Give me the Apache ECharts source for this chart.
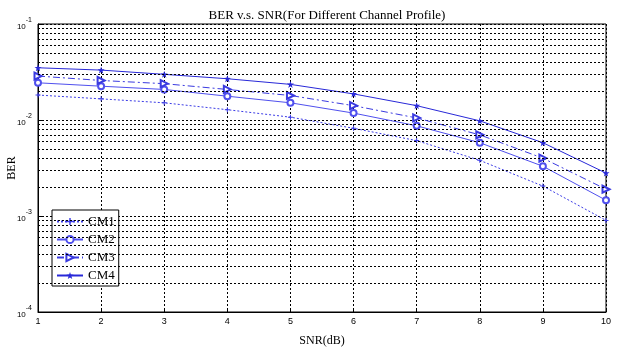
<!DOCTYPE html>
<html><head><meta charset="utf-8">
<script src="https://cdn.jsdelivr.net/npm/echarts@6/dist/echarts.min.js"></script>
<style>html,body{margin:0;padding:0;background:#fff}#c{width:628px;height:349px}</style>
</head><body><div id="c"></div>
<script>
var snr = [1, 2, 3, 4, 5, 6, 7, 8, 9, 10];
var cm1 = [0.0182, 0.0166, 0.0151, 0.0128, 0.0107, 0.0082, 0.0061, 0.0038, 0.00205, 0.0009];
var cm2 = [0.0244, 0.0225, 0.0208, 0.0177, 0.0151, 0.0118, 0.0087, 0.0058, 0.0033, 0.00146];
var cm3 = [0.0287, 0.0258, 0.0239, 0.0208, 0.0180, 0.0141, 0.0105, 0.0070, 0.0040, 0.0019];
var cm4 = [0.0350, 0.0331, 0.0299, 0.0269, 0.0235, 0.0187, 0.0141, 0.0098, 0.0058, 0.0028];
var seriesNames = ['CM1', 'CM2', 'CM3', 'CM4'];
var minorGrid = [0.0002, 0.0003, 0.0004, 0.0005, 0.0006, 0.0007, 0.0008, 0.0009,
                 0.002, 0.003, 0.004, 0.005, 0.006, 0.007, 0.008, 0.009,
                 0.02, 0.03, 0.04, 0.05, 0.06, 0.07, 0.08, 0.09];

function pairs(arr) { return snr.map(function (x, i) { return [x, arr[i]]; }); }
var plus = 'path://M-0.2,-1H0.2V-0.2H1V0.2H0.2V1H-0.2V0.2H-1V-0.2H-0.2Z';
var star = 'path://M0,-1L0.235,-0.324L0.951,-0.309L0.38,0.124L0.588,0.809L0,0.4L-0.588,0.809L-0.38,0.124L-0.951,-0.309L-0.235,-0.324Z';
var serif = 'Liberation Serif';
var sans = 'Liberation Sans';

var chart = echarts.init(document.getElementById('c'), null, {renderer: 'canvas'});
chart.setOption({
  animation: false,
  backgroundColor: '#fff',
  title: {
    text: 'BER v.s. SNR(For Different Channel Profile)',
    left: 322, top: 4, textAlign: 'center',
    textStyle: {fontFamily: serif, fontSize: 13, fontWeight: 'normal', color: '#000'}
  },
  grid: {left: 38, right: 22, top: 24, bottom: 37, outerBoundsMode: 'none', containLabel: false,
         show: true, borderColor: '#000', borderWidth: 1, backgroundColor: '#fff'},
  legend: {
    orient: 'vertical', left: 52, top: 210,
    padding: [5, 4, 4, 4], itemGap: 5, itemWidth: 26, itemHeight: 9,
    backgroundColor: '#fff', borderColor: '#000', borderWidth: 1,
    textStyle: {fontFamily: serif, fontSize: 13, color: '#000'},
    data: seriesNames
  },
  xAxis: {
    type: 'value', min: 1, max: 10, interval: 1,
    name: 'SNR(dB)', nameLocation: 'middle', nameGap: 23, nameMoveOverlap: false,
    nameTextStyle: {fontFamily: serif, fontSize: 12, color: '#000'},
    axisLine: {show: true, lineStyle: {color: '#000'}},
    axisTick: {show: true, inside: true, length: 4, lineStyle: {color: '#000'}},
    axisLabel: {fontFamily: sans, fontSize: 9, color: '#000', margin: 5},
    splitLine: {show: true, lineStyle: {color: '#000', type: [2, 2], width: 1}}
  },
  yAxis: {
    type: 'log', logBase: 10, min: 0.0001, max: 0.1,
    name: 'BER', nameLocation: 'middle', nameGap: 20, nameMoveOverlap: false,
    nameTextStyle: {fontFamily: serif, fontSize: 12, color: '#000'},
    axisLine: {show: true, lineStyle: {color: '#000'}},
    axisTick: {show: true, inside: true, length: 4, lineStyle: {color: '#000'}},
    axisLabel: {
      color: '#000', margin: 6,
      formatter: function (v) { return '{b|10}{s|' + Math.round(Math.log(v) / Math.LN10) + '}'; },
      rich: {
        b: {fontFamily: sans, fontSize: 8, color: '#000', verticalAlign: 'bottom', lineHeight: 14},
        s: {fontFamily: sans, fontSize: 7, color: '#000', verticalAlign: 'top', lineHeight: 14}
      }
    },
    splitLine: {show: true, lineStyle: {color: '#000', type: [2, 2], width: 1}}
  },
  series: [
    {
      name: 'CM1', type: 'line', data: pairs(cm1),
      symbol: plus, symbolSize: 5, showSymbol: true,
      lineStyle: {color: '#3c3ce6', width: 1, type: [2, 2]},
      itemStyle: {color: '#3c3ce6'},
      markLine: {
        silent: true, symbol: ['none', 'none'], label: {show: false}, precision: 6,
        lineStyle: {color: '#000', type: [2, 2], width: 1},
        data: minorGrid.map(function (v) { return {yAxis: v}; })
      },
      z: 3
    },
    {
      name: 'CM2', type: 'line', data: pairs(cm2),
      symbol: 'emptyCircle', symbolSize: 6,
      lineStyle: {color: '#5050ee', width: 1, type: 'solid'},
      itemStyle: {color: '#5050ee', borderColor: '#5050ee', borderWidth: 1},
      z: 3
    },
    {
      name: 'CM3', type: 'line', data: pairs(cm3),
      symbol: 'emptyTriangle', symbolRotate: -90, symbolSize: 7,
      lineStyle: {color: '#3a3ae0', width: 1, type: [7, 3, 2, 3]},
      itemStyle: {color: '#3a3ae0', borderColor: '#3a3ae0', borderWidth: 1},
      z: 3
    },
    {
      name: 'CM4', type: 'line', data: pairs(cm4),
      symbol: star, symbolSize: 7,
      lineStyle: {color: '#2828d8', width: 1, type: 'solid'},
      itemStyle: {color: '#2828d8'},
      z: 3
    }
  ]
});
</script></body></html>
